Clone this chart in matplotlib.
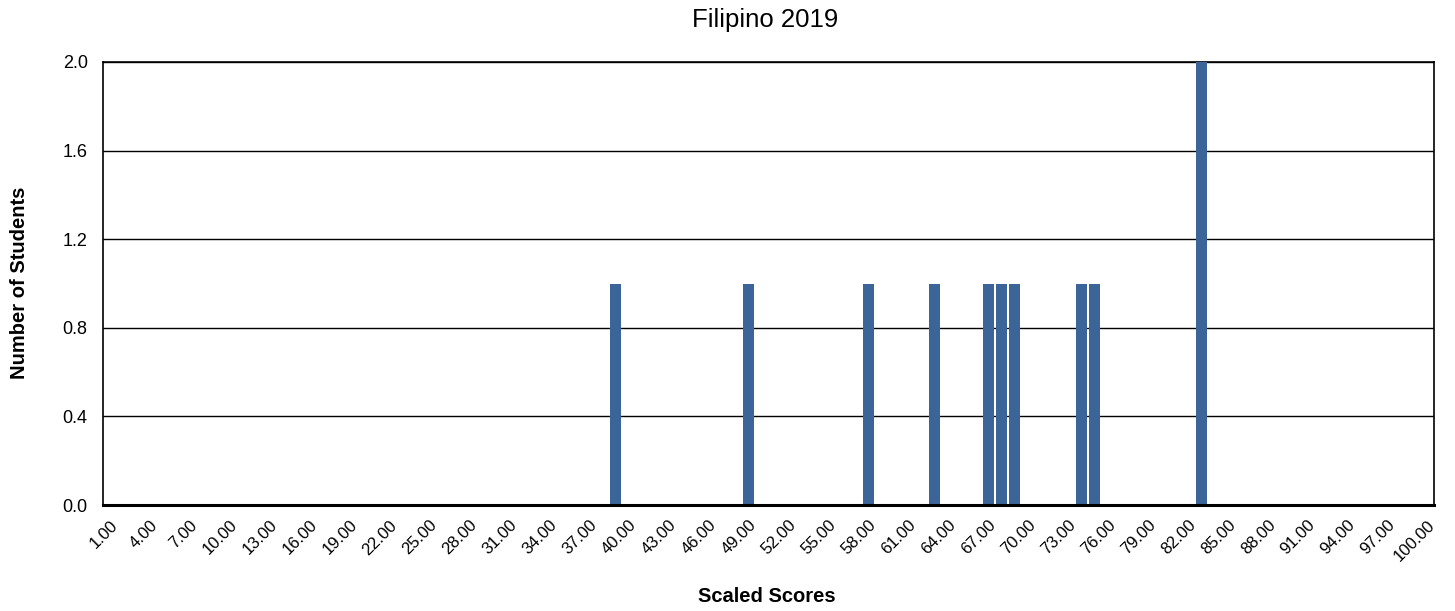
import matplotlib
matplotlib.use("Agg")
import matplotlib.pyplot as plt

plt.rcParams['font.family'] = ['Liberation Sans', 'DejaVu Sans']

# Data
title = "Filipino 2019"
x_label = "Scaled Scores"
y_label = "Number of Students"
categories = list(range(1, 101))  # scaled scores 1..100
scores_with_students = [39, 49, 58, 63, 67, 68, 69, 74, 75, 83]
students = [1, 1, 1, 1, 1, 1, 1, 1, 1, 2]
tick_scores = list(range(1, 101, 3))
tick_labels = [f"{v:.2f}" for v in tick_scores]
y_ticks = [0.0, 0.4, 0.8, 1.2, 1.6, 2.0]
y_tick_labels = ["0.0", "0.4", "0.8", "1.2", "1.6", "2.0"]

counts = {c: 0 for c in categories}
for s, n in zip(scores_with_students, students):
    counts[s] = n
values = [counts[c] for c in categories]

fig = plt.figure(figsize=(14.55, 6.11), dpi=100)
ax = fig.add_axes([103/1455, 1 - 505/611, (1434 - 103)/1455, (505 - 62)/611])

ax.bar(categories, values, width=0.83, color="#3b6598", zorder=3)

ax.set_xlim(0.5, 100.5)
ax.set_ylim(0, 2.0)
ax.set_yticks(y_ticks)
ax.set_yticklabels(y_tick_labels, fontsize=13)
ax.set_xticks(tick_scores)
ax.set_xticklabels(tick_labels, fontsize=12, rotation=45, ha='right',
                   rotation_mode='anchor')
ax.tick_params(axis='both', length=0)
ax.tick_params(axis='y', pad=11)
ax.tick_params(axis='x', pad=9)

ax.yaxis.grid(True, color='black', linewidth=1.0, zorder=0)
ax.set_axisbelow(True)

for side in ['top', 'left', 'right']:
    ax.spines[side].set_linewidth(1.2)
    ax.spines[side].set_color('black')
ax.spines['bottom'].set_linewidth(2.2)
ax.spines['bottom'].set_color('black')
ax.spines['bottom'].set_zorder(4)

fig.text(765/1455, 1 - 20/611, title, ha='center', va='center', fontsize=18.5)
fig.text(767/1455, 1 - 597/611, x_label, ha='center', va='center',
         fontsize=14.5, fontweight='bold')
fig.text(20/1455, 1 - 283/611, y_label, ha='center', va='center',
         fontsize=14.5, fontweight='bold', rotation=90)

fig.savefig("out.png", dpi=100)
